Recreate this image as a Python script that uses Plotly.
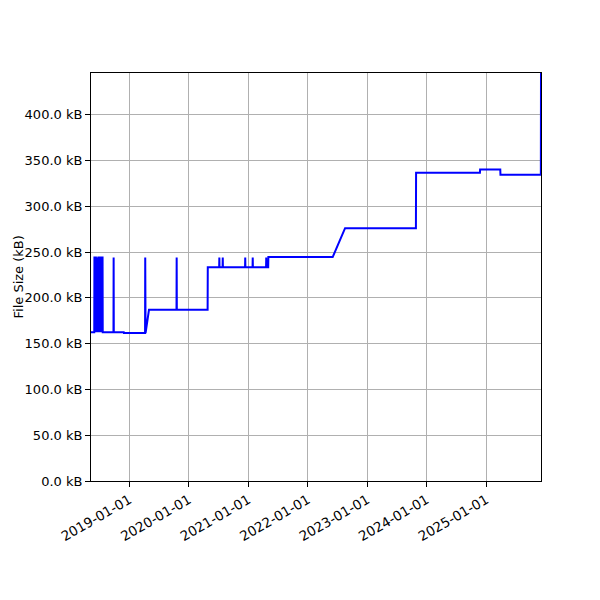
import plotly.graph_objects as go

# fechas de cada commit del archivo y su tamaño en kB
fechas = [
    "2018-05-11", "2018-05-31", "2018-06-01", "2018-06-10", "2018-06-11", "2018-06-12",
    "2018-06-16", "2018-06-17", "2018-06-19", "2018-06-24", "2018-06-25", "2018-07-02",
    "2018-07-03", "2018-07-05", "2018-07-10", "2018-07-12", "2018-07-21", "2018-07-22",
    "2018-09-26", "2018-09-27", "2018-09-28",
    "2018-11-28", "2018-11-29",
    "2019-04-08", "2019-04-09", "2019-04-10", "2019-04-11", "2019-05-02",
    "2019-10-18", "2019-10-19", "2019-10-20",
    "2020-04-26", "2020-04-27",
    "2020-07-06", "2020-07-07", "2020-07-08",
    "2020-07-27", "2020-07-28", "2020-07-29",
    "2020-12-12", "2020-12-13", "2020-12-14",
    "2021-01-27", "2021-01-28", "2021-01-29",
    "2021-04-20", "2021-04-21", "2021-04-22", "2021-05-03", "2021-05-04",
    "2022-06-03", "2022-08-18",
    "2023-10-27", "2023-10-28",
    "2024-11-23", "2024-11-24",
    "2025-03-28", "2025-03-29",
    "2025-12-02", "2025-12-03",
]
tamanos = [
    162.5, 162.5, 244, 244, 162.5, 244,
    244, 162.5, 244, 162.5, 244, 244,
    162.5, 244, 162.5, 244, 244, 162.5,
    162.5, 244, 162.5,
    162.5, 161.5,
    161.5, 244, 161.5, 161.5, 187,
    187, 244, 187,
    187, 233.5,
    233.5, 244, 233.5,
    233.5, 244, 233.5,
    233.5, 244, 233.5,
    233.5, 244, 233.5,
    233.5, 244, 233.5, 233.5, 244.5,
    244.5, 276,
    276, 336.5,
    336.5, 340,
    340, 334.5,
    334.5, 445.5,
]

# marcas del eje y
ticks_y = [0, 50, 100, 150, 200, 250, 300, 350, 400]
etiquetas_y = ["%.1f kB" % v for v in ticks_y]

fig = go.Figure(go.Scatter(
    x=fechas, y=tamanos, mode="lines",
    line=dict(color="blue", width=2),
))

fuente = dict(family="DejaVu Sans", size=13, color="black")

# la pagina deja unos 7px de borde, se compensa en los margenes
fig.update_layout(
    width=600, height=600,
    margin=dict(l=83, r=67, t=65, b=127),
    plot_bgcolor="white", paper_bgcolor="white",
    font=fuente,
    showlegend=False,
)

# titulo del eje y como anotacion pegada al borde izquierdo
fig.add_annotation(
    text="File Size (kB)", textangle=-90,
    xref="paper", yref="paper", x=-83 / 450, y=0.5,
    xanchor="left", yanchor="middle", showarrow=False,
    font=dict(family="DejaVu Sans", size=13, color="black"),
)

fig.update_xaxes(
    range=[fechas[0], fechas[-1]],
    tickformat="%Y-%m-%d", dtick="M12", tick0="2019-01-01",
    tickangle=-30,
    tickfont=dict(family="DejaVu Sans", size=13.5),
    automargin=False,
    showgrid=True, gridcolor="#b0b0b0", gridwidth=1,
    showline=True, linecolor="black", linewidth=1, mirror=True,
    ticks="outside", ticklen=5, tickcolor="black",
    zeroline=False,
)

fig.update_yaxes(
    range=[0, max(tamanos)],
    tickvals=ticks_y, ticktext=etiquetas_y,
    automargin=False,
    showgrid=True, gridcolor="#b0b0b0", gridwidth=1,
    showline=True, linecolor="black", linewidth=1, mirror=True,
    ticks="outside", ticklen=5, tickcolor="black",
    zeroline=False,
)

fig.write_html("out.html")
